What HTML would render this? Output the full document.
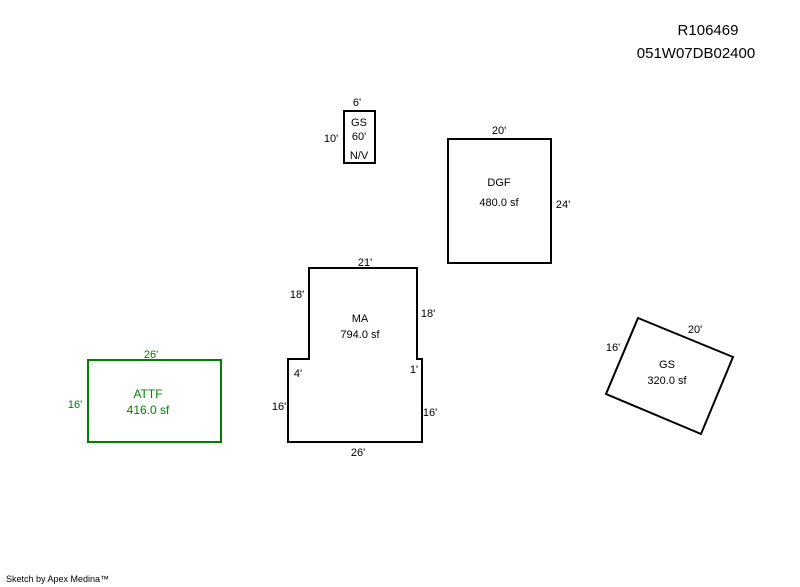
<!DOCTYPE html>
<html><head><style>
html,body{margin:0;padding:0;background:#fff;}
svg{display:block;}
text{font-family:"Liberation Sans",Arial,sans-serif;font-size:11px;fill:#000;}
</style></head><body>
<svg width="800" height="587" viewBox="0 0 800 587">
<text x="708" y="35" text-anchor="middle" style="font-size:15px">R106469</text>
<text x="696" y="58" text-anchor="middle" style="font-size:15px">051W07DB02400</text>

<rect x="344" y="111" width="31" height="52" fill="none" stroke="#000" stroke-width="2"/>
<text x="357" y="106" text-anchor="middle">6'</text>
<text x="331" y="142" text-anchor="middle">10'</text>
<text x="359" y="126" text-anchor="middle">GS</text>
<text x="359" y="140" text-anchor="middle">60'</text>
<text x="359" y="159" text-anchor="middle">N/V</text>

<rect x="448" y="139" width="103" height="124" fill="none" stroke="#000" stroke-width="2"/>
<text x="499" y="134" text-anchor="middle">20'</text>
<text x="563" y="208" text-anchor="middle">24'</text>
<text x="499" y="186" text-anchor="middle">DGF</text>
<text x="499" y="206" text-anchor="middle">480.0 sf</text>

<polygon points="309,268 417,268 417,359 422,359 422,442 288,442 288,359 309,359" fill="none" stroke="#000" stroke-width="2"/>
<text x="365" y="266" text-anchor="middle">21'</text>
<text x="297" y="298" text-anchor="middle">18'</text>
<text x="428" y="317" text-anchor="middle">18'</text>
<text x="360" y="322" text-anchor="middle">MA</text>
<text x="360" y="338" text-anchor="middle">794.0 sf</text>
<text x="298" y="377" text-anchor="middle">4'</text>
<text x="414" y="373" text-anchor="middle">1'</text>
<text x="279" y="410" text-anchor="middle">16'</text>
<text x="430" y="416" text-anchor="middle">16'</text>
<text x="358" y="456" text-anchor="middle">26'</text>

<rect x="88" y="360" width="133" height="82" fill="none" stroke="#008000" stroke-width="2"/>
<text x="151" y="358" text-anchor="middle" style="fill:#008000">26'</text>
<text x="75" y="408" text-anchor="middle" style="fill:#008000">16'</text>
<text x="148" y="398" text-anchor="middle" style="fill:#008000;font-size:12px">ATTF</text>
<text x="148" y="414" text-anchor="middle" style="fill:#008000;font-size:12px">416.0 sf</text>

<polygon points="638,318 733,357 701,434 606,394" fill="none" stroke="#000" stroke-width="2"/>
<text x="695" y="333" text-anchor="middle">20'</text>
<text x="613" y="351" text-anchor="middle">16'</text>
<text x="667" y="368" text-anchor="middle">GS</text>
<text x="667" y="384" text-anchor="middle">320.0 sf</text>

<text x="6" y="582" style="font-size:9px">Sketch by Apex Medina™</text>
</svg>
</body></html>
